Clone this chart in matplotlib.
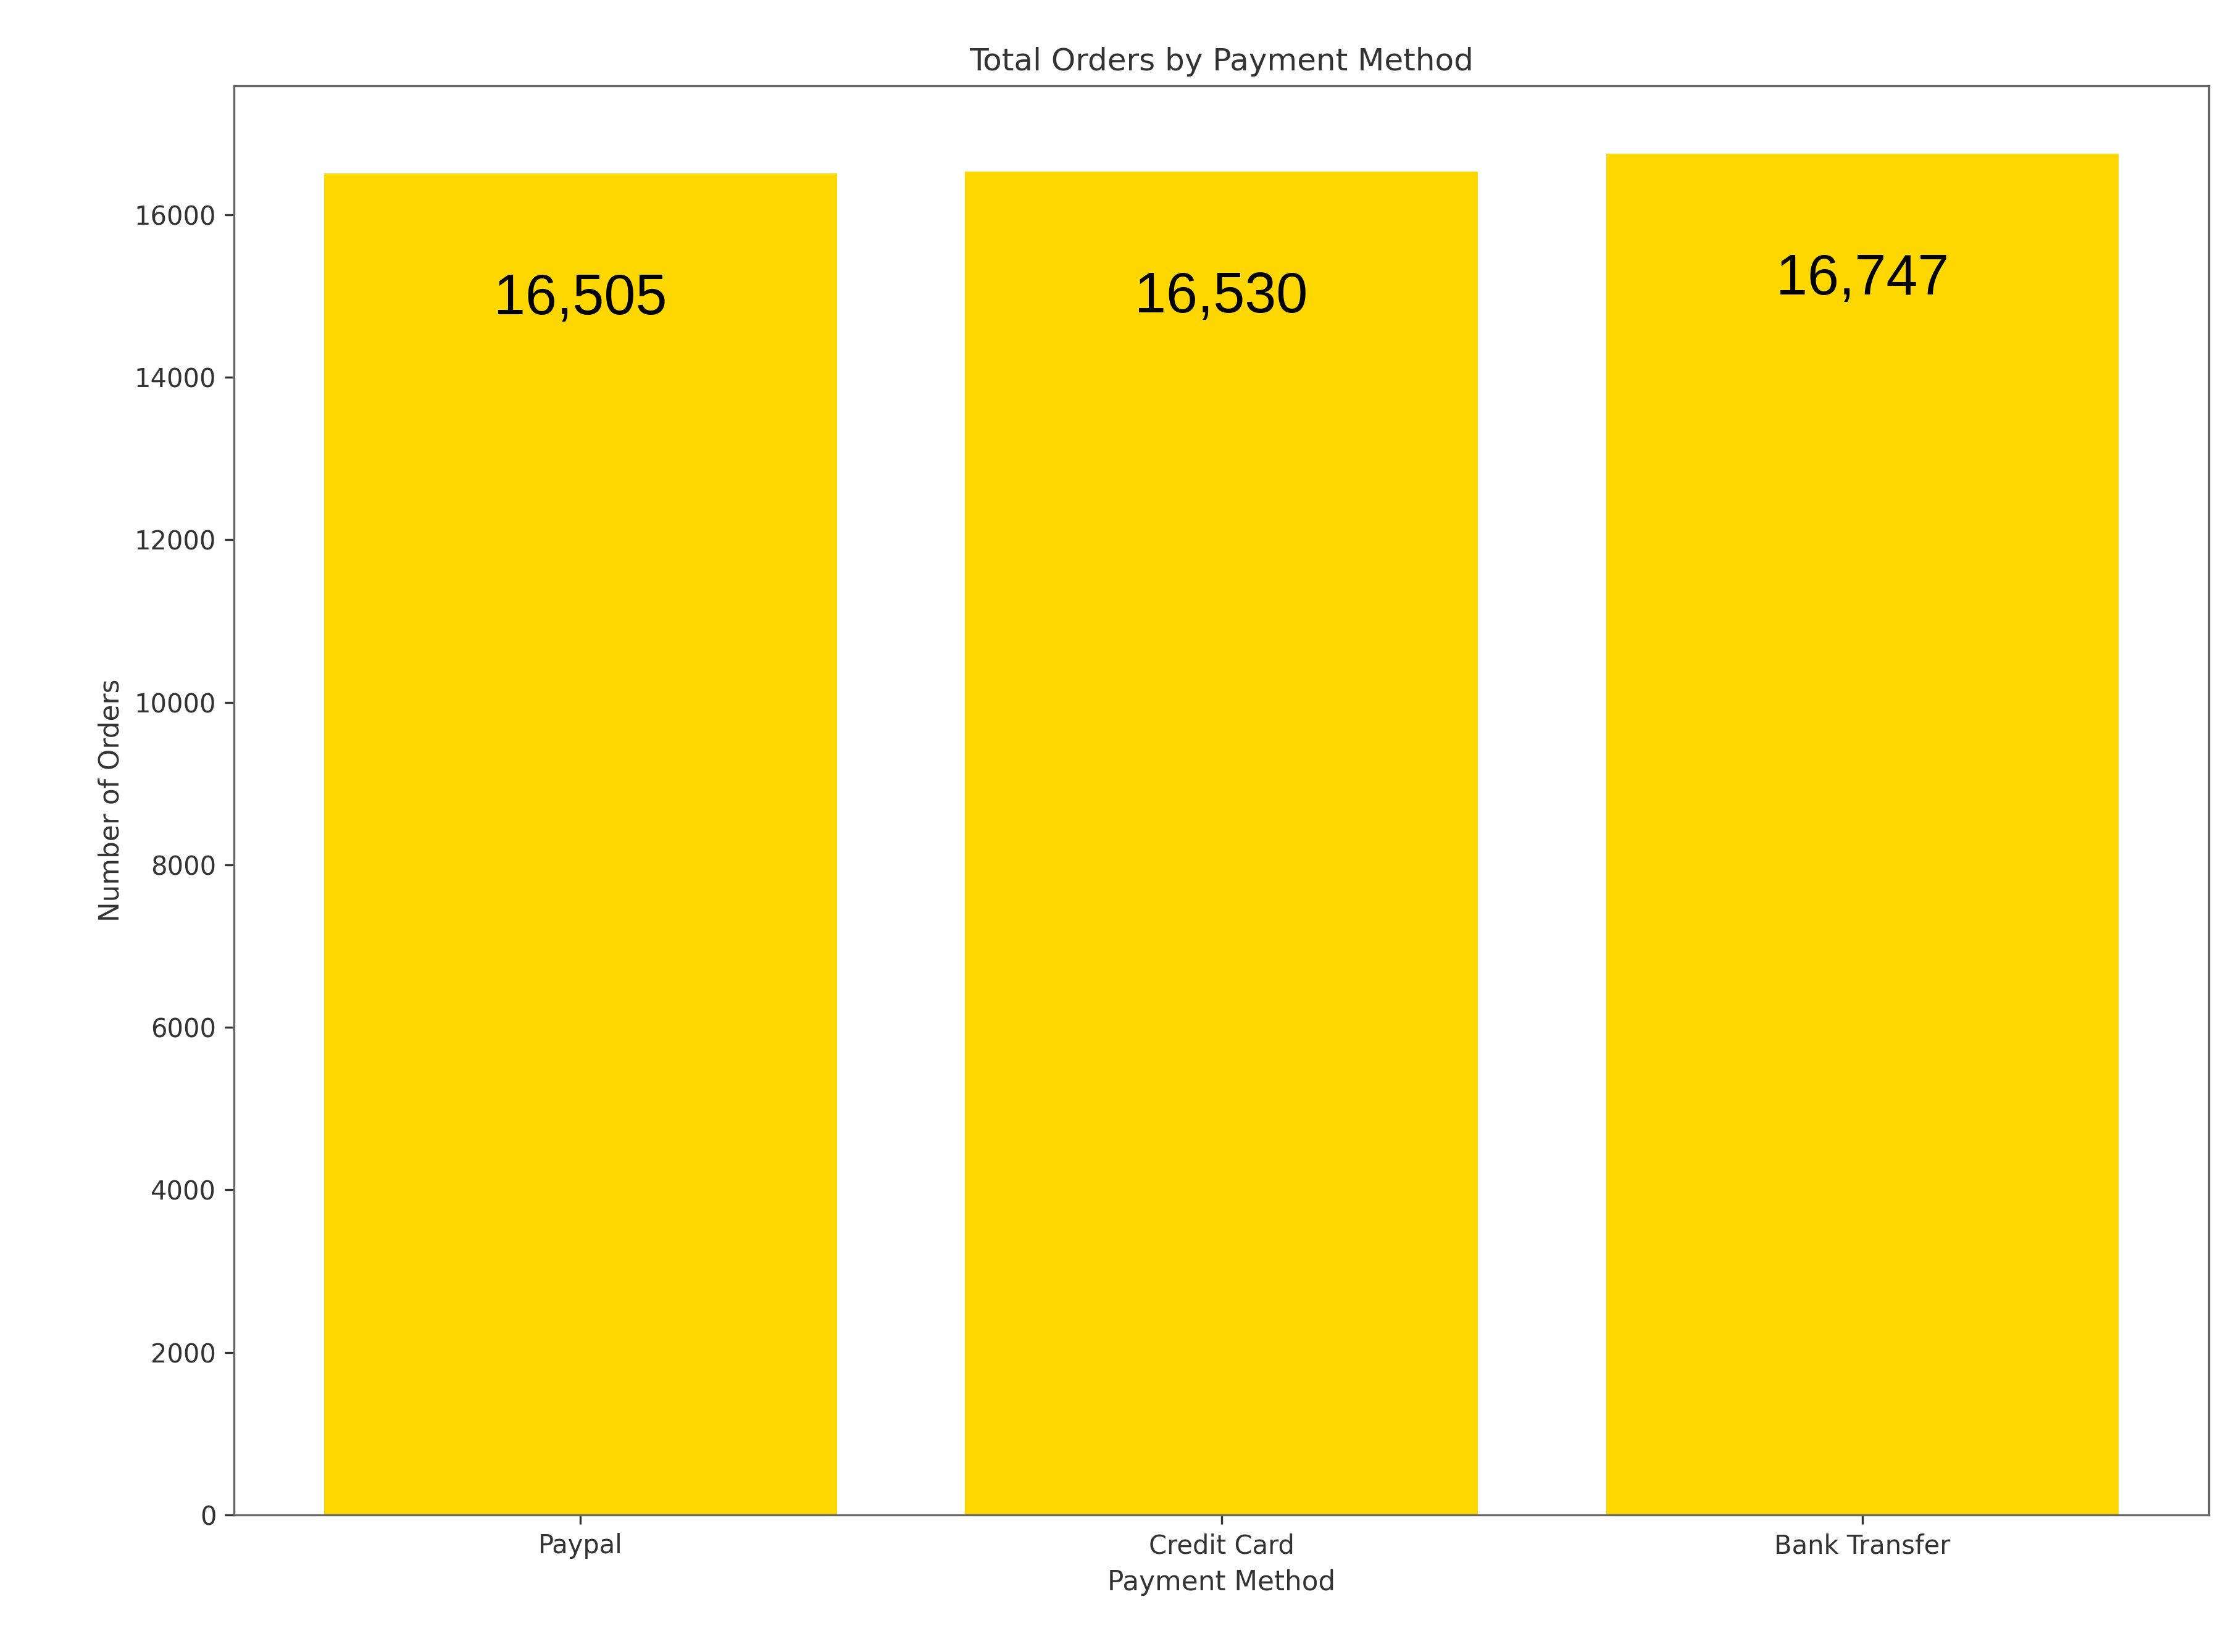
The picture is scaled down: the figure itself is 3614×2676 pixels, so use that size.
import matplotlib
matplotlib.use('Agg')
import matplotlib.pyplot as plt

methods = ['Paypal', 'Credit Card', 'Bank Transfer']
orders = [16505, 16530, 16747]

fig = plt.figure(figsize=(3614 / 300, 2676 / 300), dpi=300)
ax = fig.add_axes([0.105, 0.083, 0.885, 0.865])

bars = ax.bar(methods, orders, color='#FFD700', width=0.8)
for b, v in zip(bars, orders):
    ax.text(b.get_x() + b.get_width() / 2, v - 1550, f'{v:,}',
            ha='center', va='center', fontsize=22, family='Liberation Sans')

ax.set_title('Total Orders by Payment Method', fontsize=12, color='#333333')
ax.set_xlabel('Payment Method', fontsize=10.5, color='#333333')
ax.set_ylabel('Number of Orders', fontsize=10.5, color='#333333')
ax.tick_params(labelsize=10, colors='#333333')
for s in ax.spines.values():
    s.set_color('#666666')

fig.savefig('out.png', dpi=300)
